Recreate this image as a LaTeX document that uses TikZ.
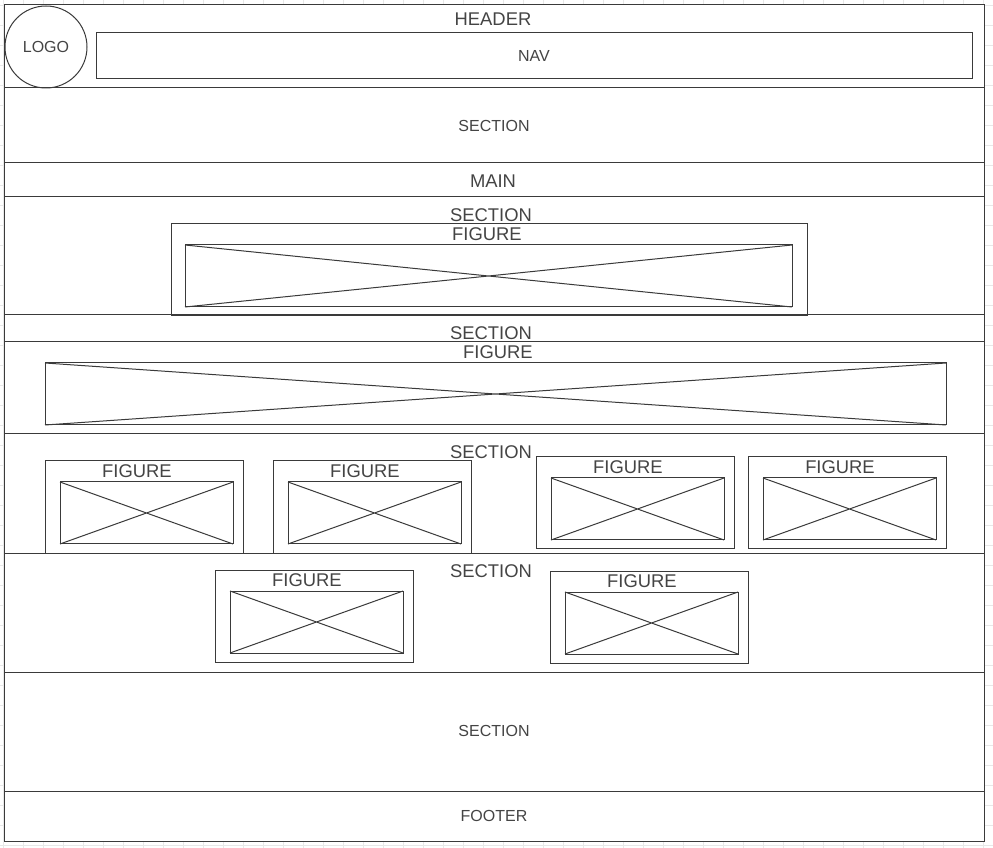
\documentclass[tikz,border=0pt]{standalone}
\usepackage{fontspec}
\setmainfont{Liberation Sans}
\usetikzlibrary{positioning}
\definecolor{wirecol}{HTML}{3A3A3A}
\definecolor{labelcol}{HTML}{444444}
\definecolor{gridcol}{HTML}{E8E8E8}
\tikzset{
  wire/.style={draw=wirecol, line width=0.75pt},
  bigtxt/.style={text=labelcol, font=\fontsize{13.8}{15}\selectfont, inner sep=0pt},
  smalltxt/.style={text=labelcol, font=\fontsize{12}{13}\selectfont, inner sep=0pt},
  band/.style={wire, fill=white, anchor=north west, inner sep=0pt, outer sep=0pt, minimum width=735pt},
  figbox/.style={wire, anchor=north west, inner sep=0pt, outer sep=0pt, minimum width=148.5pt, minimum height=69pt},
  imgbox/.style={wire, anchor=north west, inner sep=0pt, outer sep=0pt, minimum width=129.75pt, minimum height=46.5pt},
}

\begin{document}
\begin{tikzpicture}[x=0.75pt, y=-0.75pt]
\useasboundingbox (0,0) rectangle (993,848);
% background grid
\draw[gridcol, line width=0.5pt, shift={(3,5)}, step=15pt] (-3,-5) grid (990,843);
% page bands, top to bottom
\foreach \nm/\top/\ht in {hdr/5/83, secA/88/75, mainbar/163/34, secB/197/118,
  secC/315/119, secD/434/119, secE/553/119, secF/672/119, ftr/791/50}{
  \node[band, minimum height=\ht*0.75pt] (\nm) at (4,\top) {};
}
% header
\node[wire, circle, minimum size=61.5pt, outer sep=0pt, smalltxt] (logo) at (46,47) {LOGO};
\node[wire, anchor=north west, outer sep=0pt, minimum width=657pt, minimum height=34.5pt, smalltxt] (nav) at (96,33) {NAV};
\node[bigtxt] (hdrlbl) at (493,19) {HEADER};
% plain sections and main
\node[smalltxt] (secAlbl) at (494,126) {SECTION};
\node[bigtxt] (mainlbl) at (493,181) {MAIN};
\node[smalltxt] (secFlbl) at (494,731) {SECTION};
\node[smalltxt] (ftrlbl) at (494,816) {FOOTER};
% section with a wide figure
\node[bigtxt] (secBlbl) at (491,215) {SECTION};
\node[wire, anchor=north west, inner sep=0pt, outer sep=0pt, minimum width=477pt, minimum height=69pt] (figB) at (171,224) {};
\node[bigtxt] (figBlbl) at (487,234) {FIGURE};
\node[wire, anchor=north west, inner sep=0pt, outer sep=0pt, minimum width=455.25pt, minimum height=46.5pt] (imgB) at (185,245) {};
\draw[wire] (imgB.north west) -- (imgB.south east) (imgB.south west) -- (imgB.north east);
% section with a full width figure
\node[bigtxt] (secClbl) at (491,333) {SECTION};
\node[wire, anchor=north west, inner sep=0pt, outer sep=0pt, minimum width=735pt, minimum height=69pt] (figC) at (4,342) {};
\node[bigtxt] (figClbl) at (498,352) {FIGURE};
\node[wire, anchor=north west, inner sep=0pt, outer sep=0pt, minimum width=675.75pt, minimum height=46.5pt] (imgC) at (45,363) {};
\draw[wire] (imgC.north west) -- (imgC.south east) (imgC.south west) -- (imgC.north east);
% sections with small figures
\node[bigtxt] (secDlbl) at (491,452) {SECTION};
\node[bigtxt] (secElbl) at (491,571) {SECTION};
\foreach \n/\x/\y in {1/45/461, 2/273/461, 3/536/457, 4/748/457, 5/215/570, 6/550/571}{
  \node[figbox] (fig\n) at (\x,\y) {};
  \node[bigtxt] (figlbl\n) at (\x+92,\y+10) {FIGURE};
  \node[imgbox] (img\n) at (\x+15,\y+21) {};
  \draw[wire] (img\n.north west) -- (img\n.south east) (img\n.south west) -- (img\n.north east);
}
\end{tikzpicture}
\end{document}
